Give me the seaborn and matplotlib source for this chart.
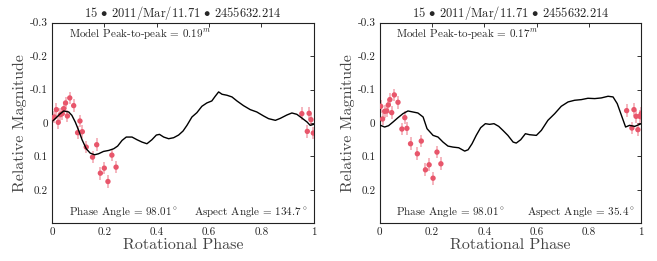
import numpy as np
import pandas as pd
from matplotlib import pyplot as plt
import seaborn as sns

sns.set_style("white")
plt.rcParams['font.family'] = ['cmr10', 'DejaVu Serif']
plt.rcParams['mathtext.fontset'] = 'cm'
plt.rcParams['axes.unicode_minus'] = False

title = r"15 $\bullet$ 2011/Mar/11.71 $\bullet$ 2455632.214"
peak = ["0.19", "0.17"]
aspect = ["134.7", "35.4"]
phase_angle = "98.01"

# observed points, left panel
obs1_x = [0.0, 0.009, 0.017, 0.024, 0.032, 0.039, 0.045, 0.052, 0.059, 0.068, 0.083,
          0.098, 0.107, 0.116, 0.131, 0.155, 0.171, 0.185, 0.2, 0.214, 0.229, 0.245,
          0.955, 0.976, 0.983, 0.99, 0.999]
obs1_y = [-0.013, -0.018, -0.04, -0.002, -0.025, -0.028, -0.043, -0.06, -0.021, -0.075, -0.052,
          0.029, -0.006, 0.026, 0.072, 0.102, 0.065, 0.15, 0.135, 0.175, 0.096, 0.132,
          -0.028, 0.025, -0.029, -0.01, 0.03]

# model curve, left panel
mod1_x = [0.003, 0.019, 0.032, 0.045, 0.064, 0.076, 0.089, 0.102, 0.115, 0.131, 0.146, 0.163,
          0.178, 0.197, 0.217, 0.236, 0.251, 0.268, 0.284, 0.306, 0.325, 0.344, 0.363, 0.382,
          0.399, 0.411, 0.427, 0.446, 0.465, 0.484, 0.501, 0.516, 0.535, 0.554, 0.573, 0.592,
          0.611, 0.624, 0.637, 0.65, 0.669, 0.688, 0.707, 0.732, 0.758, 0.783, 0.809, 0.828,
          0.854, 0.873, 0.898, 0.917, 0.936, 0.955, 0.975, 0.987, 1.0]
mod1_y = [-0.006, -0.018, -0.028, -0.036, -0.033, -0.023, -0.003, 0.022, 0.05, 0.077, 0.09, 0.095,
          0.092, 0.085, 0.082, 0.077, 0.069, 0.052, 0.042, 0.042, 0.05, 0.057, 0.062, 0.05,
          0.036, 0.034, 0.042, 0.047, 0.044, 0.036, 0.024, 0.007, -0.018, -0.031, -0.05, -0.06,
          -0.066, -0.08, -0.093, -0.086, -0.083, -0.078, -0.066, -0.052, -0.04, -0.033, -0.021, -0.013,
          -0.008, -0.014, -0.024, -0.03, -0.026, -0.015, -0.003, 0.007, 0.004]

# observed points, right panel
obs2_x = [0.004, 0.011, 0.019, 0.027, 0.033, 0.039, 0.046, 0.056, 0.07, 0.085, 0.096, 0.104,
          0.118, 0.144, 0.159, 0.175, 0.189, 0.204, 0.219, 0.234,
          0.944, 0.964, 0.972, 0.98, 0.987, 0.994, 1.0]
obs2_y = [-0.05, -0.012, -0.035, -0.036, -0.054, -0.07, -0.031, -0.084, -0.062, 0.018, -0.016, 0.016,
          0.062, 0.092, 0.054, 0.14, 0.125, 0.165, 0.087, 0.122,
          -0.037, 0.015, -0.04, -0.02, 0.02, -0.02, -0.028]

# model curve, right panel
mod2_x = [0.003, 0.019, 0.034, 0.051, 0.07, 0.089, 0.108, 0.127, 0.146, 0.166, 0.181, 0.204,
          0.223, 0.242, 0.261, 0.28, 0.302, 0.325, 0.338, 0.353, 0.369, 0.386, 0.404, 0.42,
          0.437, 0.455, 0.471, 0.49, 0.51, 0.522, 0.539, 0.557, 0.573, 0.599, 0.618, 0.643,
          0.669, 0.694, 0.72, 0.745, 0.771, 0.796, 0.822, 0.847, 0.873, 0.892, 0.908, 0.924,
          0.94, 0.955, 0.975, 1.0]
mod2_y = [0.007, 0.012, 0.008, -0.003, -0.016, -0.028, -0.036, -0.033, -0.03, -0.018, 0.017, 0.037,
          0.042, 0.057, 0.069, 0.072, 0.074, 0.084, 0.08, 0.062, 0.037, 0.014, 0.002, 0.004,
          0.002, 0.01, 0.022, 0.037, 0.057, 0.06, 0.05, 0.032, 0.035, 0.037, 0.022, -0.008,
          -0.028, -0.05, -0.063, -0.068, -0.07, -0.074, -0.073, -0.075, -0.08, -0.078, -0.058, -0.023,
          0.012, 0.007, 0.01, 0.002]

err = 0.019
red = "#e8566b"

fig = plt.figure(figsize=(6.57, 2.61), dpi=100)
ax1 = fig.add_axes([0.0791, 0.1444, 0.3982, 0.7686])
ax2 = fig.add_axes([0.5779, 0.1444, 0.3982, 0.7686])

panels = [(ax1, obs1_x, obs1_y, mod1_x, mod1_y), (ax2, obs2_x, obs2_y, mod2_x, mod2_y)]
for i, (ax, ox, oy, mx, my) in enumerate(panels):
    obs = pd.DataFrame({"phase": ox, "mag": oy})
    mod = pd.DataFrame({"phase": mx, "mag": my})
    ax.errorbar(obs["phase"], obs["mag"], yerr=err, fmt="none", ecolor=red, alpha=0.5, lw=1.2, zorder=2)
    sns.scatterplot(data=obs, x="phase", y="mag", ax=ax, color=red, s=15, edgecolor="none", zorder=3)
    sns.lineplot(data=mod, x="phase", y="mag", ax=ax, color="black", lw=1.0, zorder=4)

    ax.set_xlim(0, 1)
    ax.set_ylim(0.3, -0.3)
    ax.set_xticks([0, 0.2, 0.4, 0.6, 0.8, 1])
    ax.set_xticklabels(["0", "0.2", "0.4", "0.6", "0.8", "1"])
    ax.set_yticks([-0.3, -0.2, -0.1, 0, 0.1, 0.2])
    ax.set_yticklabels(["-0.3", "-0.2", "-0.1", "0", "0.1", "0.2"])
    ax.tick_params(direction="in", length=3, width=0.7, labelsize=8, pad=3,
                   top=True, right=True, colors="#333333", labelcolor="#222222")
    for s in ax.spines.values():
        s.set_linewidth(0.8)
        s.set_color("#222222")
    ax.set_xlabel("Rotational Phase", fontsize=11.5, color="#444444", labelpad=1)
    ax.set_ylabel("Relative Magnitude", fontsize=11.5, color="#444444", labelpad=2)
    ax.set_title(title, fontsize=9, pad=4)
    ax.text(0.064, -0.267, "Model Peak-to-peak = " + peak[i] + r"$^m$", fontsize=8, va="center")
    ax.text(0.064, 0.265, "Phase Angle = " + phase_angle + r"$^\circ$", fontsize=8, va="center")
    ax.text(0.975, 0.265, "Aspect Angle = " + aspect[i] + r"$^\circ$", fontsize=8, va="center", ha="right")

fig.savefig("out.png", dpi=100)
